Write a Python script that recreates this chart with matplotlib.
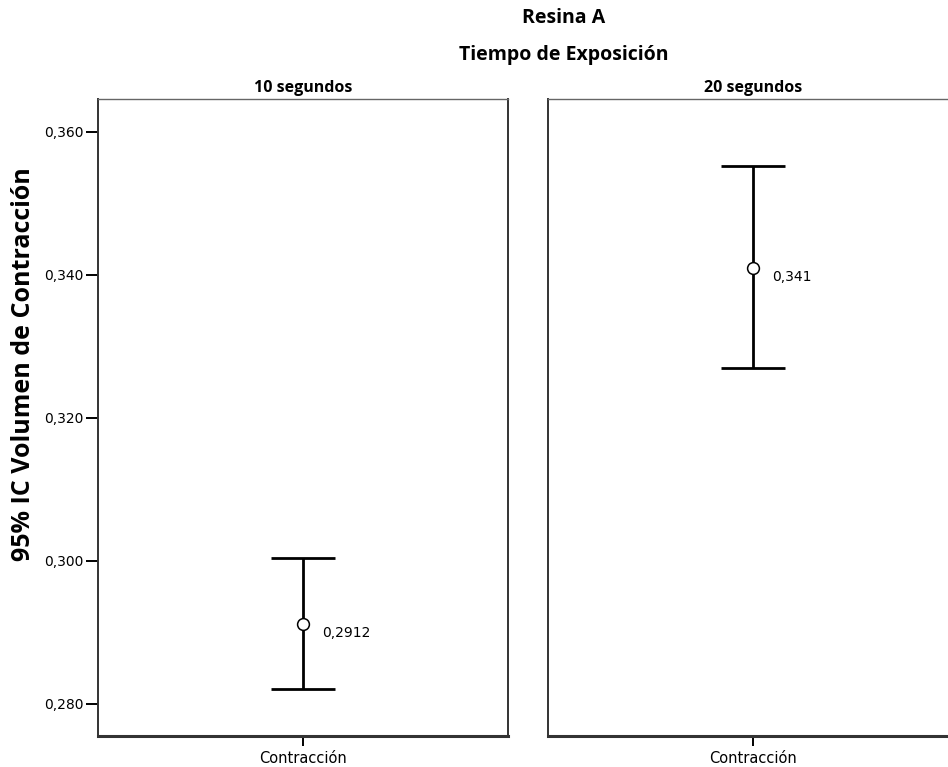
import matplotlib
matplotlib.use("Agg")
import matplotlib.pyplot as plt
from matplotlib.ticker import FixedLocator

# Data
panels = ["10 segundos", "20 segundos"]
category = ["Contracción"]
means = [0.2912, 0.341]
lower = [0.2821, 0.3270]
upper = [0.3004, 0.3552]
labels = ["0,2912", "0,341"]
yticks = [0.280, 0.300, 0.320, 0.340, 0.360]
yticklabels = ["0,280", "0,300", "0,320", "0,340", "0,360"]

W, H = 948, 767
fig = plt.figure(figsize=(W / 100, H / 100), dpi=100)
title_font = ["Open Sans", "DejaVu Sans"]
tick_font = ["DejaVu Sans"]

ax_w = 410 / W
ax_b = (H - 736) / H
ax_h = 637 / H
lefts = [98 / W, 548 / W]

ylo, yhi = 0.2755, 0.3646

for i, name in enumerate(panels):
    ax = fig.add_axes([lefts[i], ax_b, ax_w, ax_h])
    ax.set_xlim(-0.5, 0.5)
    ax.set_ylim(ylo, yhi)
    m = means[i]
    ax.errorbar([0], [m], yerr=[[m - lower[i]], [upper[i] - m]],
                fmt='none', ecolor='black', elinewidth=2.0, capsize=23,
                capthick=2.0, zorder=3)
    ax.plot([0], [m], 'o', mfc='white', mec='black', mew=1.1, ms=8.5, zorder=4)
    ax.annotate(labels[i], (0, m), xytext=(14, -7), textcoords='offset points',
                fontsize=10, family=tick_font, ha='left', va='center')
    ax.set_xticks([0])
    ax.set_xticklabels(category, fontsize=10.5, family=tick_font)
    ax.tick_params(axis='x', direction='out', length=7.5, width=1.4, pad=3)
    if i == 0:
        ax.yaxis.set_major_locator(FixedLocator(yticks))
        ax.set_yticklabels(yticklabels, fontsize=10, family=tick_font)
        ax.tick_params(axis='y', direction='out', length=8.5, width=1.4, pad=2)
        ax.set_ylabel("95% IC Volumen de Contracción", fontsize=18,
                      fontweight='bold', family=title_font)
        ax.yaxis.set_label_coords(-0.15, (736 - 364) / 637)
    else:
        ax.set_yticks([])
    ax.spines['bottom'].set_linewidth(2.2)
    ax.spines['bottom'].set_color('#333333')
    ax.spines['top'].set_linewidth(1.0)
    ax.spines['top'].set_color('#666666')
    ax.spines['left'].set_linewidth(1.4)
    ax.spines['left'].set_color('#333333')
    ax.spines['right'].set_linewidth(1.4)
    ax.spines['right'].set_color('#333333')
    ax.set_title(name, fontsize=11.5, fontweight='bold', family=title_font, pad=5)

fig.text(564 / W, 1 - 18 / H, "Resina A", ha='center', va='center',
         fontsize=14, fontweight='bold', family=title_font)
fig.text(564 / W, 1 - 55 / H, "Tiempo de Exposición", ha='center', va='center',
         fontsize=14, fontweight='bold', family=title_font)

fig.savefig("out.png", dpi=100)
